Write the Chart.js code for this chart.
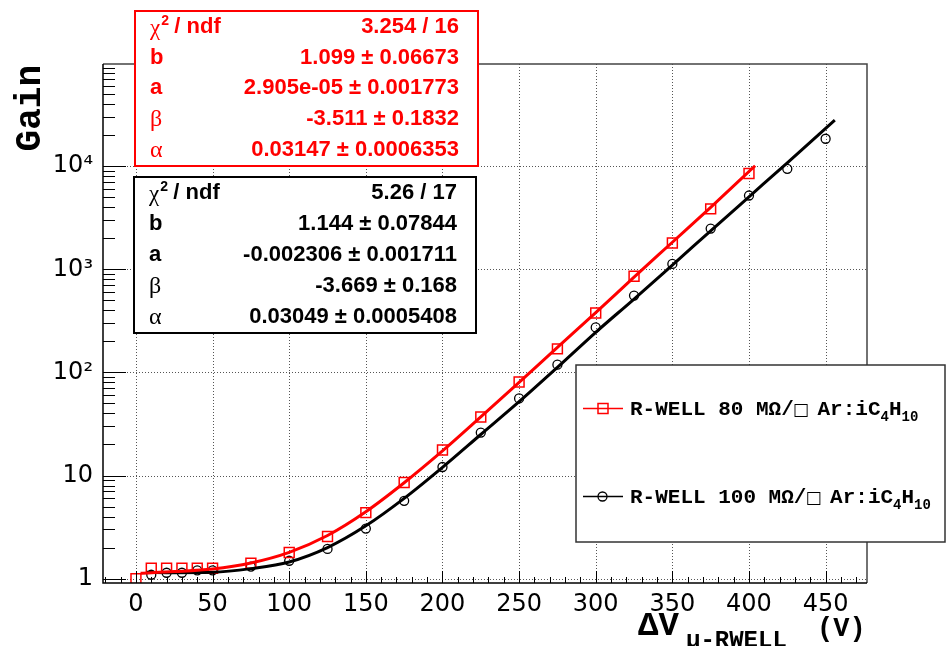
<!DOCTYPE html>
<html>
<head>
<meta charset="utf-8">
<script src="https://cdn.jsdelivr.net/npm/chart.js@4.4.1/dist/chart.umd.min.js"></script>
<style>
html, body { margin: 0; padding: 0; background: #fff; }
</style>
</head>
<body>
<canvas id="myChart" width="951" height="646"></canvas>
<script>
const voltsRed = [0, 10, 20, 30, 40, 50, 75, 100, 125, 150, 175, 200, 225, 250, 275, 300, 325, 350, 375, 400];
const gainRed = [1.0, 1.26, 1.26, 1.26, 1.26, 1.26, 1.41, 1.79, 2.56, 4.37, 8.55, 17.7, 36.9, 80.7, 169, 377, 855, 1800, 3860, 8500];

const voltsBlack = [10, 20, 30, 40, 50, 75, 100, 125, 150, 175, 200, 225, 250, 275, 300, 325, 350, 375, 400, 425, 450];
const gainBlack = [1.09, 1.14, 1.14, 1.2, 1.2, 1.31, 1.49, 1.94, 3.06, 5.68, 12.1, 26.1, 56, 119, 273, 556, 1128, 2484, 5196, 9440, 18460];

// fit curves
const fitRedX = [3, 25, 50, 75, 100, 125, 150, 175, 200, 225, 250, 275, 300, 325, 350, 375, 404];
const fitRedY = [1.13, 1.17, 1.24, 1.42, 1.8, 2.62, 4.45, 8.5, 17.3, 37, 80, 175, 380, 840, 1830, 3990, 10100];

const fitBlackX = [7, 25, 50, 75, 100, 125, 150, 175, 200, 225, 250, 275, 300, 325, 350, 375, 400, 425, 456];
const fitBlackY = [1.15, 1.14, 1.15, 1.25, 1.45, 2.0, 3.25, 6.0, 12.0, 25, 52, 112, 245, 515, 1100, 2360, 5050, 10800, 28000];

const xTicks = [0, 50, 100, 150, 200, 250, 300, 350, 400, 450];
const yTicks = [1, 10, 100, 1000, 10000];
const yTickLabels = ['1', '10', '10²', '10³', '10⁴'];

const redStats = [['χ', '3.254 / 16'], ['b', '1.099 ± 0.06673'], ['a', '2.905e-05 ± 0.001773'], ['β', '-3.511 ± 0.1832'], ['α', '0.03147 ± 0.0006353']];
const blackStats = [['χ', '5.26 / 17'], ['b', '1.144 ± 0.07844'], ['a', '-0.002306 ± 0.001711'], ['β', '-3.669 ± 0.168'], ['α', '0.03049 ± 0.0005408']];

const RED = '#ff0000';
const MONO = '"Liberation Mono", "DejaVu Sans Mono", monospace';
const SANS = '"Liberation Sans", Arial, sans-serif';
const SERIF = '"Liberation Serif", "DejaVu Serif", serif';

function pts(xs, ys) {
    return xs.map((x, i) => ({ x: x, y: ys[i] }));
}

// dotted grid
const gridPlugin = {
    id: 'rootGrid',
    beforeDatasetsDraw(chart) {
        const c = chart.ctx, a = chart.chartArea;
        const xs = chart.scales.x, ys = chart.scales.y;
        c.save();
        c.strokeStyle = '#555';
        c.lineWidth = 1;
        c.setLineDash([1, 2]);
        xTicks.forEach(v => {
            const px = Math.round(xs.getPixelForValue(v)) + 0.5;
            c.beginPath(); c.moveTo(px, a.top); c.lineTo(px, a.bottom); c.stroke();
        });
        yTicks.forEach(v => {
            const py = Math.round(ys.getPixelForValue(v)) + 0.5;
            c.beginPath(); c.moveTo(a.left, py); c.lineTo(a.right, py); c.stroke();
        });
        c.restore();
    }
};

function drawStatBox(c, x, y, w, h, color, rows, first) {
    c.save();
    c.fillStyle = '#fff';
    c.fillRect(x, y, w, h);
    c.strokeStyle = color;
    c.lineWidth = 2;
    c.strokeRect(x, y, w, h);
    c.fillStyle = color;
    c.textBaseline = 'middle';
    rows.forEach((r, i) => {
        const cy = y + first + i * 30.8;
        const lx = x + 15;
        c.textAlign = 'left';
        if (i === 0) {
            c.font = '23px ' + SERIF;
            c.fillText('χ', lx, cy + 2);
            const w1 = c.measureText('χ').width;
            c.font = 'bold 14px ' + SANS;
            c.fillText('2', lx + w1 + 1, cy - 6);
            c.font = 'bold 22px ' + SANS;
            c.fillText(' / ndf', lx + w1 + 8, cy);
        } else if (r[0] === 'a' || r[0] === 'b') {
            c.font = 'bold 22px ' + SANS;
            c.fillText(r[0], lx, cy);
        } else {
            c.font = '24px ' + SERIF;
            c.fillText(r[0], lx, cy + 1);
        }
        c.textAlign = 'right';
        c.font = 'bold 22px ' + SANS;
        c.fillText(r[1], x + w - 19, cy);
    });
    c.restore();
}

function drawLegendText(c, x, y, parts) {
    let cx = x;
    parts.forEach(p => {
        c.font = p.font;
        c.fillText(p.t, cx, y + (p.dy || 0));
        cx += c.measureText(p.t).width + (p.gap || 0);
    });
}

function legendParts(num) {
    const f = 'bold 21px ' + MONO;
    const s = 'bold 14px ' + MONO;
    return [
        { t: 'R-WELL ' + num + ' MΩ/', font: f, gap: -1 },
        { t: '□', font: 'bold 17px "DejaVu Sans", sans-serif', gap: -4 },
        { t: ' Ar:iC', font: f },
        { t: '4', font: s, dy: 6 },
        { t: 'H', font: f },
        { t: '10', font: s, dy: 6 }
    ];
}

const decorPlugin = {
    id: 'rootDecor',
    afterDatasetsDraw(chart) {
        const c = chart.ctx, a = chart.chartArea;
        const xs = chart.scales.x, ys = chart.scales.y;
        c.save();

        // frame
        c.strokeStyle = '#444';
        c.lineWidth = 1.5;
        c.beginPath();
        c.moveTo(a.left, a.top); c.lineTo(a.right, a.top); c.lineTo(a.right, a.bottom);
        c.stroke();
        c.strokeStyle = '#000';
        c.beginPath();
        c.moveTo(a.left, a.top); c.lineTo(a.left, a.bottom); c.lineTo(a.right, a.bottom);
        c.stroke();

        // y ticks (log, inside)
        c.lineWidth = 1;
        for (let n = -1; n <= 5; n++) {
            for (let k = 1; k <= 9; k++) {
                const v = k * Math.pow(10, n);
                if (v < ys.min || v > ys.max) continue;
                const py = Math.round(ys.getPixelForValue(v)) + 0.5;
                const len = k === 1 ? 23 : 12;
                c.beginPath(); c.moveTo(a.left, py); c.lineTo(a.left + len, py); c.stroke();
            }
        }
        // x ticks (inside)
        for (let v = -20; v <= 470; v += 10) {
            const px = Math.round(xs.getPixelForValue(v)) + 0.5;
            const len = v % 50 === 0 ? 12 : 6;
            c.beginPath(); c.moveTo(px, a.bottom); c.lineTo(px, a.bottom - len); c.stroke();
        }

        // fit result boxes
        drawStatBox(c, 135, 11, 343, 155, RED, redStats, 15.7);
        drawStatBox(c, 134, 177, 342, 156, '#000', blackStats, 16.3);

        // legend
        c.fillStyle = '#fff';
        c.fillRect(576, 365, 369, 177);
        c.strokeStyle = '#333';
        c.lineWidth = 1.5;
        c.strokeRect(576, 365, 369, 177);

        c.lineWidth = 1.5;
        c.strokeStyle = RED;
        c.beginPath(); c.moveTo(583, 408.5); c.lineTo(623, 408.5); c.stroke();
        c.strokeRect(598, 403.5, 10, 10);
        c.strokeStyle = '#000';
        c.lineWidth = 1.3;
        c.beginPath(); c.moveTo(583, 496.5); c.lineTo(623, 496.5); c.stroke();
        c.beginPath(); c.arc(602.5, 496.5, 4.5, 0, Math.PI * 2); c.stroke();

        c.fillStyle = '#000';
        c.textAlign = 'left';
        c.textBaseline = 'alphabetic';
        drawLegendText(c, 630, 415, legendParts('80'));
        drawLegendText(c, 630, 503, legendParts('100'));

        // axis titles
        c.fillStyle = '#000';
        c.font = 'bold 34px ' + MONO;
        c.fillText('ΔV', 638, 635);
        c.font = 'bold 24px ' + MONO;
        c.fillText('μ-RWELL', 686, 647);
        c.font = 'bold 27px ' + MONO;
        c.fillText('(V)', 817, 636);

        c.translate(40, 65);
        c.rotate(-Math.PI / 2);
        c.textAlign = 'right';
        c.font = 'bold 36px ' + MONO;
        c.fillText('Gain', 0, 0);

        c.restore();
    }
};

let ctx = document.getElementById('myChart');

let myChart = new Chart(ctx, {
    type: 'scatter',
    data: {
        datasets: [{
            label: 'fit 80',
            data: pts(fitRedX, fitRedY),
            showLine: true,
            borderColor: RED,
            borderWidth: 3,
            pointRadius: 0,
            cubicInterpolationMode: 'monotone'
        }, {
            label: 'fit 100',
            data: pts(fitBlackX, fitBlackY),
            showLine: true,
            borderColor: '#000',
            borderWidth: 3,
            pointRadius: 0,
            cubicInterpolationMode: 'monotone'
        }, {
            label: 'R-WELL 80',
            data: pts(voltsRed, gainRed),
            pointStyle: 'rect',
            pointRadius: 7,
            borderColor: RED,
            borderWidth: 1.5,
            backgroundColor: 'rgba(0,0,0,0)'
        }, {
            label: 'R-WELL 100',
            data: pts(voltsBlack, gainBlack),
            pointStyle: 'circle',
            pointRadius: 4.5,
            borderColor: '#000',
            borderWidth: 1.3,
            backgroundColor: 'rgba(0,0,0,0)'
        }]
    },
    options: {
        responsive: false,
        animation: false,
        devicePixelRatio: 1,
        layout: { padding: { left: 0, top: 64, right: 84, bottom: 0 } },
        plugins: {
            legend: { display: false },
            tooltip: { enabled: false }
        },
        scales: {
            x: {
                type: 'linear',
                min: -21.5,
                max: 477,
                afterBuildTicks: s => { s.ticks = xTicks.map(v => ({ value: v })); },
                afterFit: s => { s.height = 63; },
                grid: { display: false, drawTicks: false },
                border: { display: false },
                ticks: {
                    padding: 7,
                    maxRotation: 0,
                    autoSkip: false,
                    color: '#000',
                    font: { family: '"DejaVu Sans"', size: 24 }
                }
            },
            y: {
                type: 'logarithmic',
                min: 0.907,
                max: 98000,
                afterBuildTicks: s => { s.ticks = yTicks.map(v => ({ value: v })); },
                afterFit: s => { s.width = 103; },
                grid: { display: false, drawTicks: false },
                border: { display: false },
                ticks: {
                    padding: 10,
                    autoSkip: false,
                    color: '#000',
                    font: { family: '"DejaVu Sans"', size: 24 },
                    callback: (v) => {
                        const i = yTicks.indexOf(v);
                        return i >= 0 ? yTickLabels[i] : '';
                    }
                }
            }
        }
    },
    plugins: [gridPlugin, decorPlugin]
});
</script>
</body>
</html>
